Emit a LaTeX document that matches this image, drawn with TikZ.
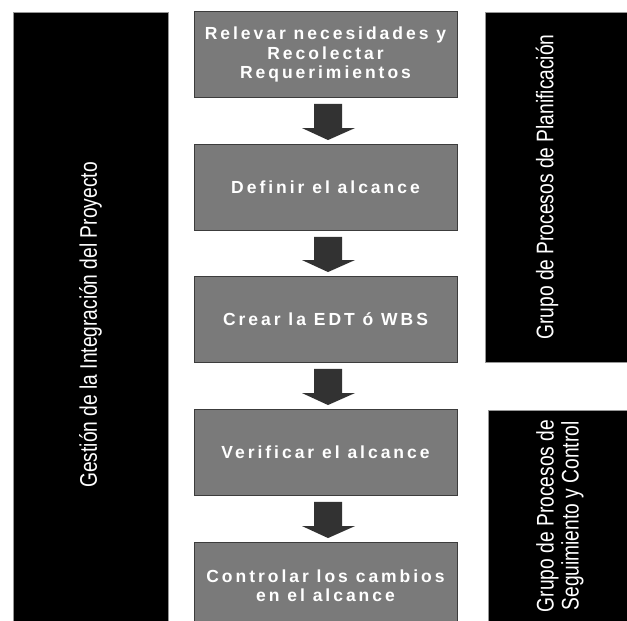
\documentclass[tikz,border=0pt]{standalone}
\usepackage{fontspec}
\usetikzlibrary{calc}
\setmainfont{Liberation Sans}
\newfontfamily\stepfont[LetterSpace=17]{Liberation Sans}
\newfontfamily\sidefont[FakeStretch=0.8]{Liberation Sans}

\definecolor{boxgray}{RGB}{122,122,122}
\definecolor{boxedge}{RGB}{60,60,60}
\definecolor{arrowgray}{RGB}{50,50,50}
\definecolor{paneledge}{RGB}{150,150,150}

\tikzset{
  stepbox/.style={rectangle, fill=boxgray, draw=boxedge, line width=0.9pt,
    minimum width=263pt, minimum height=86pt, inner sep=0pt,
    text=white, align=center,
    font=\stepfont\bfseries\fontsize{17.5}{19.5}\selectfont},
  panel/.style={rectangle, fill=black, draw=paneledge, line width=0.6pt,
    inner sep=0pt, rotate=90},
  paneltext/.style={text=white, align=center, rotate=90, inner sep=0pt,
    font=\sidefont\fontsize{24}{25}\selectfont},
  arrowfill/.style={fill=arrowgray}
}

% block arrow from the bottom of one step to the top of the next
\newcommand\flowarrow[2]{%
  \fill[arrowfill]
    ($(#1.south)+(-11.5,6)$) -- ($(#1.south)+(16.5,6)$) --
    ($(#2.north)+(16.5,-16)$) -- ($(#2.north)+(29.5,-16)$) --
    ($(#2.north)+(2.5,-4)$) --
    ($(#2.north)+(-23.5,-16)$) -- ($(#2.north)+(-11.5,-16)$) -- cycle;}

\begin{document}
\begin{tikzpicture}[x=1pt,y=-1pt]
\useasboundingbox (0,0) rectangle (627,621);
\clip (0,0) rectangle (627,621);

% side panels (the right ones run past the edge)
\node[panel, minimum width=626pt, minimum height=155pt] (integ) at (90.5,325) {};
\node[paneltext] (integtxt) at (integ.center) {Gestión de la Integración del Proyecto};

\node[panel, minimum width=350pt, minimum height=160pt] (plan) at (565,187) {};
\node[paneltext] (plantxt) at (547,187) {Grupo de Procesos de Planificación};

\node[panel, minimum width=230pt, minimum height=160pt] (segui) at (568,525) {};
\node[paneltext] (seguitxt) at (560,516) {Grupo de Procesos de\\Seguimiento y Control};

% process steps
\node[stepbox] (s1) at (325.5,54.5) {Relevar necesidades y\\Recolectar\\Requerimientos};
\node[stepbox] (s2) at (325.5,187.5) {Definir el alcance};
\node[stepbox] (s3) at (325.5,319.5) {Crear la EDT ó WBS};
\node[stepbox] (s4) at (325.5,452.5) {Verificar el alcance};
\node[stepbox] (s5) at (325.5,585.5) {Controlar los cambios\\en el alcance};

\flowarrow{s1}{s2}
\flowarrow{s2}{s3}
\flowarrow{s3}{s4}
\flowarrow{s4}{s5}
\end{tikzpicture}
\end{document}
